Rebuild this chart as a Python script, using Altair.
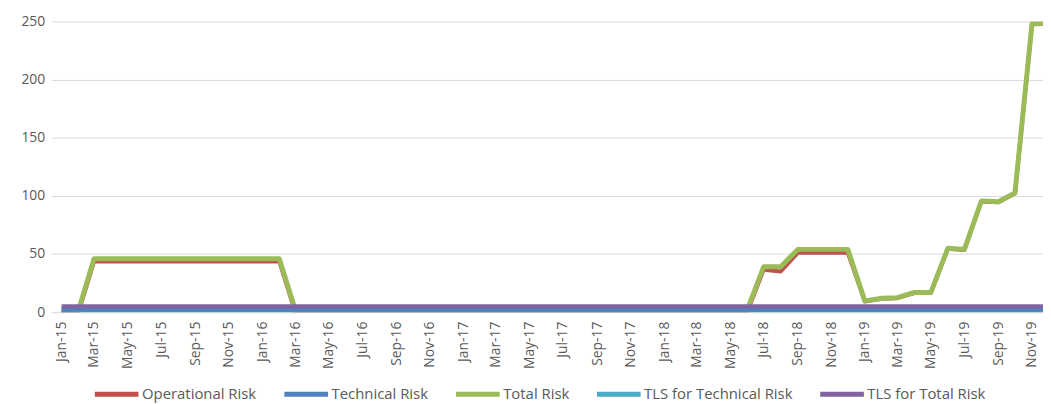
import altair as alt
import pandas as pd

# Months Jan-15 .. Dec-19 (categories)
months = pd.date_range("2015-01-01", "2019-12-01", freq="MS").strftime("%Y-%m-%dT00:00:00").tolist()

series_names = ["Operational Risk", "Technical Risk", "Total Risk",
                "TLS for Technical Risk", "TLS for Total Risk"]
series_colors = ["#C0504D", "#4F81BD", "#9BBB59", "#4BACC6", "#8064A2"]

operational_risk = (
    [0, 0, 43.5, 43.5, 43.5, 43.5, 43.5, 43.5, 43.5, 43.5, 43.5, 43.5]      # 2015
    + [43.5, 43.5, 0, 0, 0, 0, 0, 0, 0, 0, 0, 0]                           # 2016
    + [0, 0, 0, 0, 0, 0, 0, 0, 0, 0, 0, 0]                                 # 2017
    + [0, 0, 0, 0, 0, 0, 36.5, 35, 51, 51, 51, 51]                         # 2018
    + [9.2, 11.5, 12, 16.5, 16.5, 54.5, 53.5, 95.2, 94.5, 102, 247.5, 248]  # 2019
)
technical_risk = (
    [2, 2, 2, 2, 2, 2, 2, 2, 2, 2, 2, 2]
    + [2, 2, 2, 2, 2, 2, 2, 2, 2, 2, 2, 2]
    + [2, 2, 2, 2, 2, 2, 2, 2, 2, 2, 2, 2]
    + [2, 2, 2, 2, 2, 2, 2, 2, 2, 2, 2, 2]
    + [2, 2, 2, 2, 2, 2, 2, 2, 2, 2, 2, 2]
)
total_risk = (
    [2, 2, 46, 46, 46, 46, 46, 46, 46, 46, 46, 46]
    + [46, 46, 2, 2, 2, 2, 2, 2, 2, 2, 2, 2]
    + [2, 2, 2, 2, 2, 2, 2, 2, 2, 2, 2, 2]
    + [2, 2, 2, 2, 2, 2, 39, 39, 54, 54, 54, 54]
    + [9.7, 12, 12.5, 17, 17, 55, 54, 95.7, 95, 102.5, 248, 248.5]
)
tls_technical = (
    [0, 0, 0, 0, 0, 0, 0, 0, 0, 0, 0, 0]
    + [0, 0, 0, 0, 0, 0, 0, 0, 0, 0, 0, 0]
    + [0, 0, 0, 0, 0, 0, 0, 0, 0, 0, 0, 0]
    + [0, 0, 0, 0, 0, 0, 0, 0, 0, 0, 0, 0]
    + [0, 0, 0, 0, 0, 0, 0, 0, 0, 0, 0, 0]
)
tls_total = (
    [5, 5, 5, 5, 5, 5, 5, 5, 5, 5, 5, 5]
    + [5, 5, 5, 5, 5, 5, 5, 5, 5, 5, 5, 5]
    + [5, 5, 5, 5, 5, 5, 5, 5, 5, 5, 5, 5]
    + [5, 5, 5, 5, 5, 5, 5, 5, 5, 5, 5, 5]
    + [5, 5, 5, 5, 5, 5, 5, 5, 5, 5, 5, 5]
)

y_ticks = [0, 50, 100, 150, 200, 250]

values_by_series = {
    "Operational Risk": operational_risk,
    "Technical Risk": technical_risk,
    "Total Risk": total_risk,
    "TLS for Technical Risk": tls_technical,
    "TLS for Total Risk": tls_total,
}

rows = []
for name, vals in values_by_series.items():
    for m, v in zip(months, vals):
        rows.append({"month": m, "value": v, "series": name})
df = pd.DataFrame(rows)

FONT = "Open Sans"
TXT = "#595959"

x_ticks = [alt.DateTime(year=y, month=m, date=1) for y in range(2015, 2020) for m in (1, 3, 5, 7, 9, 11)]

x_enc = alt.X(
    "month:T",
    scale=alt.Scale(domain=[alt.DateTime(year=2014, month=12, date=14),
                            alt.DateTime(year=2019, month=11, date=21)], nice=False),
    axis=alt.Axis(values=x_ticks, format="%b-%y", labelAngle=270, labelAlign="right",
                  labelBaseline="middle", labelPadding=9, labelFontSize=14, labelColor=TXT,
                  labelFont=FONT, grid=False, domain=False, ticks=False, labelOverlap=False,
                  title=None),
)
y_enc = alt.Y(
    "value:Q",
    scale=alt.Scale(domain=[0, 250], nice=False),
    axis=alt.Axis(values=y_ticks, grid=True, gridColor="#d9d9d9", domain=False, ticks=False,
                  labelPadding=7, labelFontSize=14, labelColor=TXT, labelFont=FONT, title=None),
)
color_enc = alt.Color(
    "series:N",
    scale=alt.Scale(domain=series_names, range=series_colors),
    legend=alt.Legend(orient="none", legendX=41, legendY=351, direction="horizontal",
                      symbolType="stroke", symbolSize=1936, symbolStrokeWidth=5,
                      labelFontSize=15, labelColor=TXT, labelFont=FONT, columnPadding=17,
                      labelOffset=1, title=None, columns=5),
)

draw_order = [("Operational Risk", 4), ("Total Risk", 5), ("TLS for Technical Risk", 4),
              ("Technical Risk", 4), ("TLS for Total Risk", 4.5)]

layers = []
for name, sw in draw_order:
    layers.append(
        alt.Chart(df[df["series"] == name])
        .mark_line(clip=True, strokeWidth=sw, strokeJoin="round")
        .encode(x=x_enc, y=y_enc, color=color_enc)
    )

chart = alt.layer(*layers).properties(
    width=999, height=293,
    padding={"left": 44, "top": 12, "right": 0, "bottom": 91},
    autosize=alt.AutoSizeParams(type="none"),
).configure_view(stroke=None)

chart.save("out.html", embed_options={"renderer": "svg", "actions": False})
